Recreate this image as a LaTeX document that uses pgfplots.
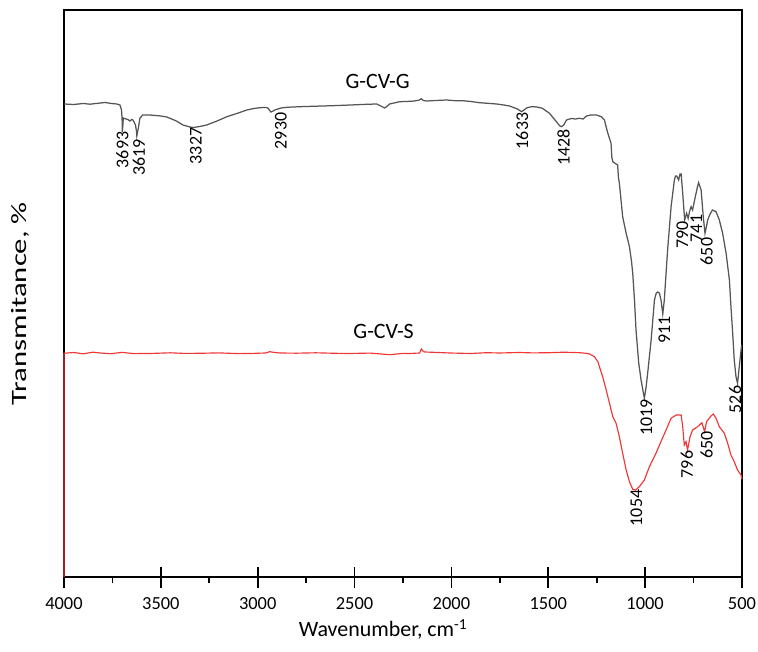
\documentclass[border=0pt]{standalone}
\usepackage{pgfplots}
\pgfplotsset{compat=1.18}
\usepackage{fontspec}
\setmainfont{Carlito}
\definecolor{ggray}{RGB}{85,85,85}
\definecolor{gred}{RGB}{240,55,55}
\pgfplotsset{
  ftirbox/.style={
    scale only axis,
    width=678bp, height=567bp,
    x dir=reverse,
    xmin=500, xmax=4000,
    ymin=0, ymax=567,
    xtick={500,1000,...,4000},
    xtick pos=bottom,
    ytick=\empty,
    every tick/.style={black, line width=1.6bp},
  },
}
\begin{document}
\begin{tikzpicture}
\useasboundingbox (-64bp,-75bp) rectangle (694bp,577bp);
% inner half of the major ticks
\begin{axis}[
    ftirbox,
    axis line style={draw=none},
    tick align=inside,
    major tick length=10bp,
    minor x tick num=0,
    xticklabels={},
  ]
  \addplot[draw=none] coordinates {(4000,0) (500,0)};
\end{axis}
\begin{axis}[
    ftirbox,
    clip=false,
    axis line style={black, line width=1.5bp},
    minor x tick num=1,
    tick align=outside,
    major tick length=11bp,
    minor tick length=6bp,
    /pgf/number format/assume math mode=true,
    /pgf/number format/1000 sep={},
    xticklabel style={font=\fontsize{18.5}{20}\selectfont, yshift=-6bp},
    every axis x label/.style={at={(axis description cs:0.4705,-0.1058)}, anchor=base},
    every axis y label/.style={at={(axis description cs:-0.0649,0.482)}, rotate=90, anchor=center},
    label style={font=\fontsize{22}{24}\selectfont},
    xlabel={Wavenumber, cm\textsuperscript{-1}},
    ylabel={\scalebox{1.4}[1]{Transmitance, \%}},
  ]
  % G-CV-G
  \addplot[ggray, line width=1.25bp] coordinates {
    (4000,473) (3950,472.5) (3900,473.5) (3866,472.8) (3830,473.6) (3789,474.5)
    (3750,473.4) (3727,473) (3711,472) (3703,467) (3700,458) (3699,445)
    (3696,452) (3694,459) (3680,458) (3670,457.5) (3660,456) (3650,457.5)
    (3644,457) (3631,452) (3626,446) (3624,441) (3620,445) (3616,449)
    (3608,459) (3593,462) (3557,462) (3500,461) (3469,460) (3420,456)
    (3386,452) (3350,450) (3330,449.5) (3300,450.5) (3263,452) (3210,456)
    (3159,460.3) (3100,464) (3056,467) (3020,468.5) (2989,469.3) (2960,469.5)
    (2948,469) (2932,465) (2920,466) (2912,467) (2880,469) (2850,469.7)
    (2783,470.3) (2700,470.8) (2613,471.3) (2520,472) (2437,472.7) (2386,473)
    (2365,471) (2345,469) (2330,471) (2319,473) (2267,475.3) (2230,475.5)
    (2190,476) (2165,477) (2156,478.3) (2145,476.5) (2128,476) (2080,476.5)
    (2025,477) (1980,476.3) (1942,476.3) (1900,475.5) (1855,474.3) (1800,473.5)
    (1767,473) (1730,472) (1700,471) (1659,468) (1638,465.3) (1625,467)
    (1612,469) (1595,470) (1581,470.3) (1560,470) (1530,468.7) (1494,463.7)
    (1458,455.3) (1440,451) (1432,450.3) (1420,452) (1406,457) (1380,458.5)
    (1360,458) (1339,458.7) (1320,458) (1303,461) (1280,462) (1251,462)
    (1226,460.3) (1210,457) (1195,445.3) (1176,433.7) (1172,420) (1167,415.3)
    (1150,413) (1142,412) (1138,400) (1133,393.7) (1116,360.3) (1098,343.7)
    (1081,330.3) (1070,315) (1064,303.7) (1055,277) (1047,247) (1033,213.7)
    (1021,197) (1010,185) (1004,178.7) (995,190) (987,203.7) (969,237)
    (952,277) (943,283.7) (935,285) (926,283.7) (918,277) (909,263)
    (901,277) (884,327) (866,370.3) (849,397) (843,401) (837,401)
    (827,397) (820,403) (814,403) (806,383.7) (796,357) (786,363.7)
    (778,358.7) (770,366) (763,370.3) (755,367) (741,380.3) (730,390)
    (724,394.3) (711,387) (700,360.3) (691,343.7) (684,350) (677,357)
    (665,363) (652,367) (634,365.3) (617,357) (600,343.7) (582,323.7)
    (565,297) (557,270.3) (548,243.7) (540,217) (531,200.3) (523,193.7)
    (514,210.3) (502,232)
  };
  % G-CV-S
  \addplot[gred, line width=1.15bp] coordinates {
    (4000,0) (4000,223.7) (3950,224.5) (3900,223.2) (3850,224.8) (3814,224)
    (3760,223.3) (3700,224.6) (3640,223.4) (3557,223.5) (3450,224.2)
    (3380,223.6) (3299,223.7) (3200,224.1) (3100,223.4) (3041,223.5)
    (2960,224) (2938,225.3) (2915,224.6) (2886,224) (2800,223.8) (2700,224.2)
    (2600,223.7) (2525,223.5) (2420,223.9) (2319,222.3) (2250,223.6)
    (2216,223.5) (2164,224) (2155,228) (2145,225.5) (2138,225) (2080,224.6)
    (2009,224) (1900,223.5) (1820,224.3) (1752,224) (1650,224.5) (1580,224.1)
    (1494,224.3) (1420,224.8) (1339,224.3) (1300,223.6) (1287,223)
    (1262,220.3) (1244,215.3) (1236,210.3) (1219,200.3) (1201,187)
    (1184,173.7) (1167,160.3) (1150,153.7) (1133,140.3) (1116,123.7)
    (1098,107) (1081,95.3) (1064,87.7) (1050,87) (1030,90.3) (1004,97)
    (978,110.3) (944,123.7) (926,132) (892,147) (866,158.7) (840,162)
    (814,162) (806,150.3) (798,132) (789,135.3) (781,127) (768,140.3)
    (755,147) (729,150.3) (707,154.3) (693,145.3) (683,155.3) (660,161)
    (648,163) (634,158.7) (617,150.3) (591,143.7) (574,133.7) (557,122)
    (540,115.3) (523,107) (505,102) (500,97.7)
  };
  % series names
  \node[font=\fontsize{22}{24}\selectfont] at (axis cs:2381,495.5) {G-CV-G};
  \node[font=\fontsize{22}{24}\selectfont] at (axis cs:2350,246) {G-CV-S};
  % peak positions
  \begin{scope}[every node/.style={rotate=90, font=\fontsize{18}{20}\selectfont, inner sep=0pt}]
    \node at (axis cs:3698,427) {3693};
    \node at (axis cs:3613,419.5) {3619};
    \node at (axis cs:3319,431) {3327};
    \node at (axis cs:2881,446) {2930};
    \node at (axis cs:1635,446) {1633};
    \node at (axis cs:1421,429.5) {1428};
    \node at (axis cs:994,159.5) {1019};
    \node at (axis cs:901,247) {911};
    \node at (axis cs:808,342) {790};
    \node at (axis cs:736,348.5) {741};
    \node at (axis cs:682,325.5) {650};
    \node at (axis cs:535,177.5) {526};
    \node at (axis cs:1045,69) {1054};
    \node at (axis cs:785,112.5) {796};
    \node at (axis cs:682,132) {650};
  \end{scope}
\end{axis}
\end{tikzpicture}
\end{document}
